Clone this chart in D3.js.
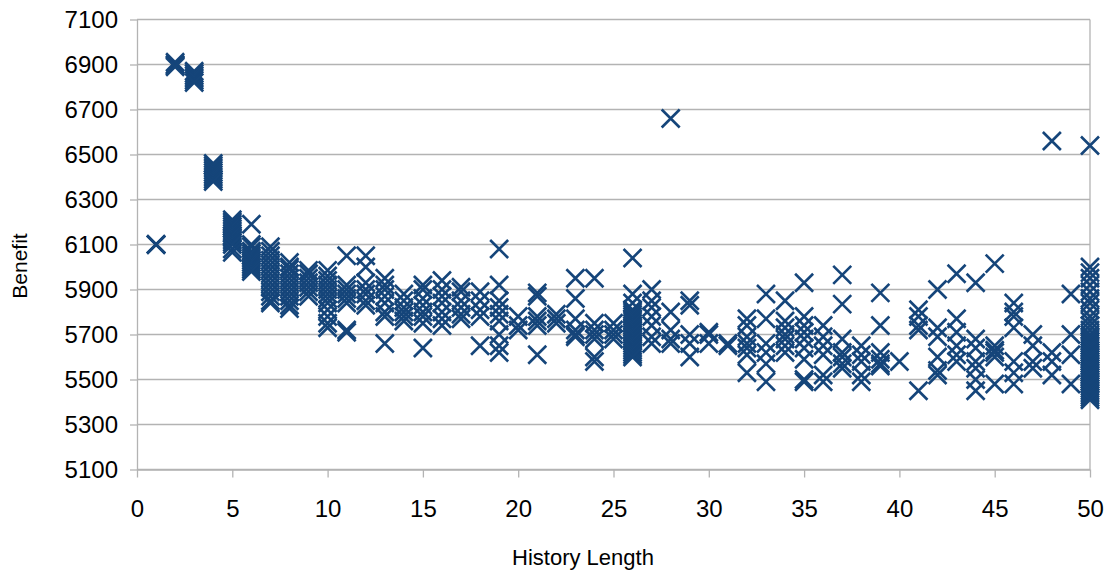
<!DOCTYPE html>
<html>
<head>
<meta charset="utf-8">
<script src="https://cdn.jsdelivr.net/npm/d3@7"></script>
<style>
    html, body { margin: 0; padding: 0; background: #fff; }
    #root { width: 1112px; height: 571px; }
    text { font-family: "Liberation Sans", Arial, sans-serif; fill: #000; }
</style>
</head>
<body>
<div id="root"></div>
<script>
// history lengths (x) and the benefit values seen at each one (y)
var historyLengths = [1, 2, 3, 4, 5, 6, 7, 8, 9, 10,
    11, 12, 13, 14, 15, 16, 17, 18, 19, 20,
    21, 22, 23, 24, 25, 26, 27, 28, 29, 30,
    31, 32, 33, 34, 35, 36, 37, 38, 39, 40,
    41, 42, 43, 44, 45, 46, 47, 48, 49, 50];

var benefits = [
    [6100, 6100, 6100],
    [6910, 6900, 6895, 6890],
    [6870, 6860, 6850, 6840, 6830, 6820],
    [6460, 6450, 6440, 6430, 6420, 6410, 6400, 6390, 6380],
    [6210, 6200, 6190, 6180, 6170, 6160, 6150, 6140, 6130, 6120, 6110, 6100, 6080, 6065],
    [6190, 6100, 6090, 6070, 6060, 6050, 6040, 6030, 6020, 6010, 6000, 5990, 5980],
    [6090, 6070, 6050, 6030, 6010, 5990, 5970, 5950, 5930, 5910, 5890, 5870, 5850, 5840],
    [6020, 6000, 5990, 5970, 5950, 5930, 5910, 5890, 5870, 5850, 5830, 5815],
    [5985, 5970, 5950, 5930, 5910, 5890, 5870],
    [5985, 5960, 5940, 5920, 5900, 5880, 5860, 5840, 5810, 5780, 5750, 5730],
    [6050, 5920, 5900, 5880, 5860, 5840, 5720, 5710],
    [6050, 6000, 5930, 5900, 5880, 5850, 5830],
    [5950, 5920, 5900, 5870, 5840, 5800, 5780, 5660],
    [5880, 5850, 5820, 5800, 5780, 5760],
    [5920, 5900, 5860, 5830, 5800, 5780, 5750, 5640],
    [5940, 5900, 5870, 5840, 5800, 5770, 5740],
    [5910, 5890, 5850, 5820, 5790, 5770],
    [5890, 5850, 5810, 5780, 5650],
    [6080, 5920, 5850, 5820, 5790, 5760, 5700, 5650, 5620],
    [5780, 5740, 5720],
    [5885, 5870, 5780, 5760, 5740, 5610],
    [5790, 5770, 5750],
    [5950, 5860, 5770, 5720, 5700, 5690],
    [5950, 5750, 5720, 5700, 5680, 5600, 5580],
    [5750, 5720, 5700, 5680],
    [6040, 5880, 5840, 5810, 5800, 5790, 5780, 5770, 5760, 5750, 5740, 5730, 5720, 5710,
        5700, 5690, 5680, 5670, 5660, 5650, 5640, 5630, 5620, 5610, 5600],
    [5900, 5850, 5820, 5780, 5740, 5690, 5660],
    [6660, 5800, 5720, 5680, 5660],
    [5850, 5830, 5700, 5660, 5600],
    [5710, 5700, 5660],
    [5660, 5650],
    [5770, 5740, 5690, 5660, 5640, 5610, 5530],
    [5880, 5770, 5660, 5620, 5570, 5490],
    [5850, 5760, 5730, 5700, 5680, 5650, 5620],
    [5930, 5780, 5740, 5710, 5680, 5640, 5590, 5500, 5490],
    [5740, 5690, 5650, 5610, 5520, 5490],
    [5965, 5835, 5680, 5620, 5600, 5570, 5550],
    [5650, 5610, 5580, 5520, 5490],
    [5885, 5740, 5620, 5590, 5570, 5560],
    [5580],
    [5810, 5780, 5740, 5720, 5450],
    [5900, 5730, 5690, 5600, 5540, 5520],
    [5970, 5770, 5710, 5650, 5610, 5580],
    [5930, 5680, 5640, 5580, 5550, 5500, 5450],
    [6015, 5650, 5630, 5620, 5600, 5480],
    [5840, 5800, 5780, 5730, 5580, 5530, 5480],
    [5700, 5650, 5580, 5550],
    [6560, 5620, 5580, 5520],
    [5880, 5700, 5610, 5480],
    [6540, 6000, 5975, 5950, 5920, 5890, 5860, 5840, 5810, 5780, 5760, 5740, 5720,
        5700, 5690, 5680, 5670, 5660, 5650, 5640, 5630, 5620, 5610, 5600, 5590, 5580,
        5570, 5560, 5550, 5540, 5530, 5520, 5510, 5500, 5490, 5480, 5470, 5460, 5450,
        5440, 5430, 5420, 5410]
];

var xTicks = [0, 5, 10, 15, 20, 25, 30, 35, 40, 45, 50];
var yTicks = [5100, 5300, 5500, 5700, 5900, 6100, 6300, 6500, 6700, 6900, 7100];

var xTitle = "History Length",
    yTitle = "Benefit";

// flatten into points
var points = [];
historyLengths.forEach(function (h, i) {
    benefits[i].forEach(function (b) { points.push({ x: h, y: b }); });
});

var width = 1112,
    height = 571,
    margin = { top: 19.5, left: 137, right: 22, bottom: 101.5 },
    gridColor = "#b3b3b3",
    markColor = "#15457a";

var svg = d3.select("#root").append("svg")
    .attr("width", width)
    .attr("height", height);

var xScale = d3.scaleLinear()
    .domain([0, 50])
    .range([margin.left, width - margin.right]);

var yScale = d3.scaleLinear()
    .domain([5100, 7100])
    .range([height - margin.bottom, margin.top]);

// horizontal grid lines
svg.append("g").classed("grid", true)
    .selectAll("line")
    .data(yTicks)
    .enter()
    .append("line")
    .attr("x1", margin.left)
    .attr("x2", width - margin.right)
    .attr("y1", function (d) { return yScale(d); })
    .attr("y2", function (d) { return yScale(d); })
    .attr("stroke", gridColor)
    .attr("stroke-width", 1.3);

// right border of the plot
svg.append("line")
    .attr("x1", width - margin.right).attr("x2", width - margin.right)
    .attr("y1", margin.top).attr("y2", height - margin.bottom)
    .attr("stroke", gridColor)
    .attr("stroke-width", 1.3);

var yAxis = d3.axisLeft(yScale)
    .tickValues(yTicks)
    .tickFormat(d3.format("d"))
    .tickSize(7)
    .tickSizeOuter(0)
    .tickPadding(12);

var xAxis = d3.axisBottom(xScale)
    .tickValues(xTicks)
    .tickFormat(d3.format("d"))
    .tickSize(8)
    .tickSizeOuter(0)
    .tickPadding(22);

var yAxisGroup = svg.append("g")
    .attr("transform", "translate(" + margin.left + ",0)")
    .call(yAxis);

var xAxisGroup = svg.append("g")
    .attr("transform", "translate(0," + (height - margin.bottom) + ")")
    .call(xAxis);

[yAxisGroup, xAxisGroup].forEach(function (g) {
    g.select(".domain").attr("stroke", gridColor).attr("stroke-width", 1.3);
    g.selectAll(".tick line").attr("stroke", gridColor).attr("stroke-width", 1.3);
    g.selectAll(".tick text")
        .attr("fill", "#000")
        .style("font-family", "'Liberation Sans', Arial, sans-serif")
        .style("font-size", "24px");
});

// X markers
var s = 9;
svg.append("g").classed("marks", true)
    .selectAll("path")
    .data(points)
    .enter()
    .append("path")
    .attr("transform", function (d) {
        return "translate(" + xScale(d.x) + "," + yScale(d.y) + ")";
    })
    .attr("d", "M" + (-s) + "," + (-s) + "L" + s + "," + s + "M" + (-s) + "," + s + "L" + s + "," + (-s))
    .attr("fill", "none")
    .attr("stroke", markColor)
    .attr("stroke-width", 2.6);

// axis titles
svg.append("text")
    .attr("x", 583)
    .attr("y", 557)
    .attr("text-anchor", "middle")
    .attr("dominant-baseline", "central")
    .style("font-size", "22px")
    .text(xTitle);

svg.append("text")
    .attr("transform", "translate(19,266) rotate(-90)")
    .attr("text-anchor", "middle")
    .attr("dominant-baseline", "central")
    .style("font-size", "21px")
    .text(yTitle);
</script>
</body>
</html>
